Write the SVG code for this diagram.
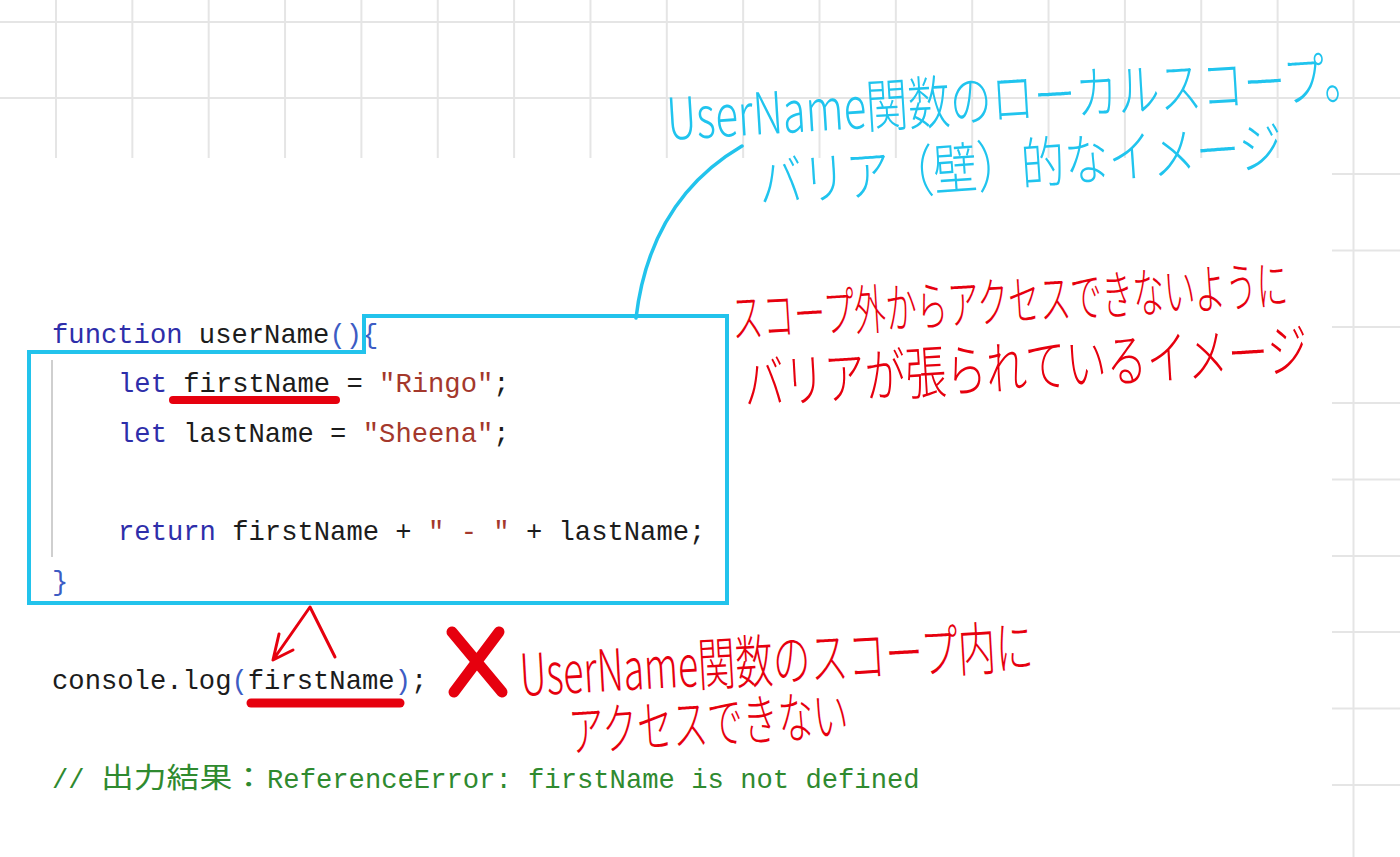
<svg xmlns="http://www.w3.org/2000/svg" width="1400" height="857" viewBox="0 0 1400 857">
<style>
.grid{stroke:#e5e5e5;stroke-width:2;fill:none}
.code{font-family:"Liberation Mono","DejaVu Sans Mono","Noto Sans CJK JP",monospace;font-size:27.2px;white-space:pre}
.kw{fill:#2e2eaa}
.id{fill:#1c1c1c}
.pn{fill:#3d5cc4}
.str{fill:#a4382c}
.cm{fill:#2f8a2f}
.cjk{font-family:"Noto Sans CJK JP",sans-serif;font-size:28px}
.hand{font-family:"Noto Sans CJK JP",sans-serif;font-weight:300}
.blue{fill:#20c4ee}
.red{fill:#e6000e}
.bstroke{stroke:#22c3ec;fill:none;stroke-linejoin:miter}
.rstroke{stroke:#e6000e;fill:none;stroke-linecap:round;stroke-linejoin:round}
</style>
<rect width="1400" height="857" fill="#ffffff"/>
<g id="grid">
<path class="grid" d="M0,22H1400M0,98H1400"/>
<path class="grid" d="M56,0V158M132.35,0V158M208.7,0V158M285.05,0V158M361.4,0V158M437.75,0V158M514.1,0V158M590.45,0V158M666.8,0V158M743.15,0V158M819.5,0V158M895.85,0V158M972.2,0V158M1048.55,0V158M1124.9,0V158M1201.25,0V158M1277.6,0V158"/>
<path class="grid" d="M1353.5,0V857"/>
<path class="grid" d="M1332,174H1400M1332,250.5H1400M1332,327H1400M1332,403H1400M1332,479.5H1400M1332,556H1400M1332,632H1400M1332,708.5H1400M1332,785H1400"/>
</g>
<g id="code">
<line x1="52" y1="360" x2="52" y2="557" stroke="#cfcfcf" stroke-width="2"/>
<text class="code" x="52" y="343"><tspan class="kw">function</tspan><tspan class="id"> userName</tspan><tspan class="pn">(){</tspan></text>
<text class="code" x="118" y="392"><tspan class="kw">let</tspan><tspan class="id"> firstName = </tspan><tspan class="str">"Ringo"</tspan><tspan class="id">;</tspan></text>
<text class="code" x="118" y="442"><tspan class="kw">let</tspan><tspan class="id"> lastName = </tspan><tspan class="str">"Sheena"</tspan><tspan class="id">;</tspan></text>
<text class="code" x="118" y="540"><tspan class="kw">return</tspan><tspan class="id"> firstName + </tspan><tspan class="str">" - "</tspan><tspan class="id"> + lastName;</tspan></text>
<text class="code" x="52" y="590"><tspan class="pn">}</tspan></text>
<text class="code" x="52" y="689"><tspan class="id">console.log</tspan><tspan class="pn">(</tspan><tspan class="id">firstName</tspan><tspan class="pn">)</tspan><tspan class="id">;</tspan></text>
<text class="code cm" x="52" y="788">// </text>
<text class="cjk cm" x="101" y="788" textLength="164" lengthAdjust="spacingAndGlyphs">出力結果：</text>
<text class="code cm" x="267" y="788">ReferenceError: firstName is not defined</text>
</g>
<g id="scope-box">
<path class="bstroke" stroke-width="4" d="M364,316H727V603H29V352H364Z"/>
</g>
<g id="connectors">
<path class="bstroke" stroke-width="3.5" stroke-linecap="round" d="M636,318Q650,200 742,146"/>
<path class="rstroke" stroke-width="3" d="M273,660L310,607L335,657M279,634L273,660L293,650"/>
<path class="rstroke" stroke-width="8" d="M173,400H336"/>
<path class="rstroke" stroke-width="9" d="M251,703H400"/>
</g>
<g id="cross">
<path class="rstroke" stroke-width="11" d="M452,632L502,692M499,632L454,692"/>
</g>
<g id="note-scope">
<text class="hand blue" x="668" y="140" font-size="58" textLength="700" lengthAdjust="spacingAndGlyphs" transform="rotate(-3.5 668 140)">UserName関数のローカルスコープ。</text>
<text class="hand blue" x="760" y="203" font-size="56" textLength="525" lengthAdjust="spacingAndGlyphs" transform="rotate(-4 760 203)">バリア（壁）的なイメージ</text>
</g>
<g id="note-barrier">
<text class="hand red" x="733" y="338" font-size="54" textLength="557" lengthAdjust="spacingAndGlyphs" transform="rotate(-3.5 733 338)">スコープ外からアクセスできないように</text>
<text class="hand red" x="745" y="405" font-size="58" textLength="565" lengthAdjust="spacingAndGlyphs" transform="rotate(-3.5 745 405)">バリアが張られているイメージ</text>
</g>
<g id="note-error">
<text class="hand red" x="521" y="696" font-size="58" textLength="514" lengthAdjust="spacingAndGlyphs" transform="rotate(-3.2 521 696)">UserName関数のスコープ内に</text>
<text class="hand red" x="570" y="752" font-size="56" textLength="280" lengthAdjust="spacingAndGlyphs" transform="rotate(-3.5 570 752)">アクセスできない</text>
</g>
</svg>
